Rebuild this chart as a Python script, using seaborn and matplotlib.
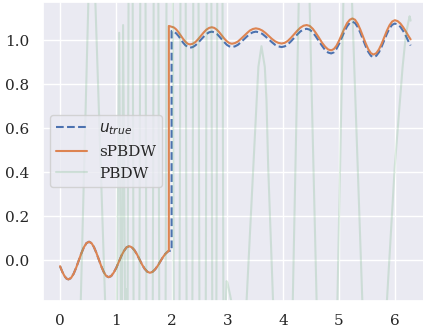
import numpy as np
import pandas as pd
import matplotlib
matplotlib.use("Agg")
import matplotlib.pyplot as plt
import seaborn as sns

# ---- data ----
# shared left part (x < 2) for u_true and sPBDW
x_left = [0.0, 0.04, 0.08, 0.115, 0.15, 0.196, 0.2425, 0.289, 0.335, 0.381, 0.4275, 0.474,
          0.52, 0.564, 0.6075, 0.651, 0.695, 0.739, 0.7825, 0.826, 0.87, 0.916, 0.9625,
          1.009, 1.055, 1.101, 1.1475, 1.194, 1.24, 1.286, 1.3325, 1.379, 1.425, 1.471,
          1.5175, 1.564, 1.61, 1.656, 1.7025, 1.749, 1.795, 1.841, 1.8875, 1.934, 1.95]
y_left = [-0.026, -0.051, -0.071, -0.082, -0.086, -0.080, -0.061, -0.033, -0.0005, 0.032,
          0.060, 0.079, 0.085, 0.079, 0.061, 0.035, 0.0045, -0.026, -0.052, -0.070, -0.076,
          -0.071, -0.055, -0.033, -0.0055, 0.022, 0.044, 0.060, 0.065, 0.060, 0.047, 0.028,
          0.0045, -0.019, -0.038, -0.051, -0.056, -0.052, -0.041, -0.025, -0.0055, 0.014,
          0.030, 0.041, 0.043]

# right part x positions (after the jump), shared by u_true and sPBDW
x_right = [2.0, 2.041, 2.0825, 2.124, 2.165, 2.206, 2.2475, 2.289,
           2.33, 2.379, 2.4275, 2.476, 2.525, 2.574, 2.6225, 2.671,
           2.72, 2.765, 2.81, 2.855, 2.90, 2.945, 2.99, 3.035,
           3.08, 3.134, 3.1875, 3.241, 3.295, 3.349, 3.4025, 3.456,
           3.51, 3.5675, 3.625, 3.6825, 3.74, 3.7975, 3.855, 3.9125,
           3.97, 4.026, 4.0825, 4.139, 4.195, 4.251, 4.3075, 4.364,
           4.42, 4.475, 4.53, 4.585, 4.64, 4.695, 4.75, 4.805,
           4.86, 4.9075, 4.955, 5.0025, 5.05, 5.0975, 5.145, 5.1925,
           5.24, 5.2875, 5.335, 5.3825, 5.43, 5.4775, 5.525, 5.5725,
           5.62, 5.6675, 5.715, 5.7625, 5.81, 5.8575, 5.905, 5.9525,
           6.0, 6.05, 6.1, 6.15, 6.2, 6.24, 6.283]

# u_true: end of left part at x = 2, then right part
u_jump_x = [2.0]
u_jump_y = [0.045]
u_y_right = [1.043, 1.040, 1.032, 1.020, 1.005, 0.990, 0.978, 0.970,
             0.967, 0.970, 0.978, 0.990, 1.0035, 1.017, 1.029, 1.037,
             1.040, 1.037, 1.030, 1.018, 1.005, 0.992, 0.980, 0.973,
             0.970, 0.973, 0.980, 0.992, 1.005, 1.018, 1.030, 1.037,
             1.040, 1.037, 1.030, 1.018, 1.005, 0.992, 0.980, 0.973,
             0.970, 0.973, 0.982, 0.996, 1.0115, 1.027, 1.041, 1.050,
             1.053, 1.049, 1.037, 1.018, 0.997, 0.976, 0.957, 0.945,
             0.941, 0.946, 0.962, 0.985, 1.013, 1.041, 1.064, 1.080,
             1.085, 1.079, 1.061, 1.035, 1.0045, 0.974, 0.948, 0.930,
             0.924, 0.930, 0.946, 0.971, 1.0005, 1.030, 1.055, 1.071,
             1.077, 1.073, 1.062, 1.043, 1.020, 0.998, 0.977]

# sPBDW: jumps slightly before x = 2
s_jump_x = [1.95]
s_jump_y = [1.066]
s_y_right = [1.062, 1.059, 1.050, 1.037, 1.022, 1.007, 0.994, 0.985,
             0.982, 0.985, 0.993, 1.006, 1.021, 1.036, 1.049, 1.057,
             1.060, 1.057, 1.049, 1.037, 1.0225, 1.008, 0.996, 0.988,
             0.985, 0.988, 0.995, 1.007, 1.020, 1.033, 1.045, 1.052,
             1.055, 1.052, 1.045, 1.034, 1.0205, 1.007, 0.996, 0.989,
             0.986, 0.989, 0.998, 1.012, 1.028, 1.044, 1.058, 1.067,
             1.070, 1.066, 1.053, 1.034, 1.0125, 0.990, 0.972, 0.959,
             0.955, 0.961, 0.976, 1.000, 1.0275, 1.055, 1.079, 1.094,
             1.100, 1.094, 1.076, 1.049, 1.018, 0.987, 0.960, 0.942,
             0.936, 0.942, 0.959, 0.984, 1.014, 1.044, 1.069, 1.086,
             1.092, 1.088, 1.077, 1.060, 1.040, 1.022, 1.005]

# PBDW (wildly oscillating, mostly outside the visible range)
pb_x = [0.00, 0.20, 0.37, 0.51, 0.57, 0.63, 0.81, 0.92, 1.02, 1.06, 1.09, 1.10, 1.11,
        1.13, 1.165, 1.175, 1.19, 1.20,
        1.212, 1.228, 1.265, 1.302, 1.318, 1.37, 1.422, 1.438, 1.485, 1.532, 1.548,
        1.605, 1.662, 1.678, 1.72, 1.762, 1.778, 1.835, 1.892, 1.908, 1.965, 2.022,
        2.038, 2.09, 2.142, 2.158, 2.205, 2.252, 2.268, 2.32, 2.372, 2.388, 2.435,
        2.482, 2.498, 2.555, 2.612, 2.628, 2.67, 2.712, 2.728, 2.765, 2.802, 2.818,
        2.865, 2.912, 2.928, 2.95, 2.985, 3.00, 3.05, 3.08, 3.20, 3.34, 3.465, 3.525,
        3.555, 3.61, 3.67, 3.70, 3.73, 3.82, 4.00, 4.17, 4.28, 4.375, 4.47, 4.60, 4.79,
        4.97, 5.08, 5.155, 5.23, 5.42, 5.64, 5.855, 6.00, 6.14, 6.20, 6.265, 6.283]
pb_y = [-2.5, -4.0, -0.2, 1.2, 2.5, 1.2, -0.2, -1.5, -0.2, 1.035, -0.2, -0.5, -0.2,
        1.07, -0.2, -0.35, -0.13, -0.35,
        -0.2, 1.2, 3.0, 1.2, -0.2, -2.5, -0.2, 1.2, 3.0, 1.2, -0.2,
        -2.5, -0.2, 1.2, 3.0, 1.2, -0.2, -2.5, -0.2, 1.2, 3.0, 1.2,
        -0.2, -2.5, -0.2, 1.2, 3.0, 1.2, -0.2, -2.5, -0.2, 1.2, 3.0,
        1.2, -0.2, -2.5, -0.2, 1.2, 3.0, 1.2, -0.2, -2.5, -0.2, 1.2,
        3.0, 1.2, -0.2, -0.35, -0.094, -0.10, -0.16, -0.2, -1.2, -0.2, 0.43, 0.73,
        0.88, 0.974, 0.88, 0.73, 0.43, -0.2, -1.5, -0.2, 1.2, 2.0, 1.2, -0.2, -1.5,
        -0.2, 1.2, 1.8, 1.2, -0.2, -1.5, -0.2, 0.43, 0.88, 1.03, 1.11, 1.09]

labels = [r"$u_{true}$", "sPBDW", "PBDW"]

# ---- build frames ----
df_u = pd.DataFrame({"x": x_left + u_jump_x + x_right,
                     "y": y_left + u_jump_y + u_y_right})
df_s = pd.DataFrame({"x": x_left + s_jump_x + x_right,
                     "y": y_left + s_jump_y + s_y_right})
df_p = pd.DataFrame({"x": pb_x, "y": pb_y})

sns.set_theme(style="darkgrid")
plt.rcParams["font.family"] = "serif"

fig = plt.figure(figsize=(4.23, 3.28), dpi=100)
ax = fig.add_axes([0.1005, 0.0838, 0.9116, 0.9116])

pal = sns.color_palette("deep")
sns.lineplot(data=df_u, x="x", y="y", ax=ax, sort=False, estimator=None,
             color=pal[0], linestyle="--", linewidth=1.5, label=labels[0])
sns.lineplot(data=df_s, x="x", y="y", ax=ax, sort=False, estimator=None,
             color=pal[1], linewidth=1.5, label=labels[1])
sns.lineplot(data=df_p, x="x", y="y", ax=ax, sort=False, estimator=None,
             color=pal[2], alpha=0.2, linewidth=1.5, label=labels[2])

ax.set_xlim(-0.314, 6.597)
ax.set_ylim(-0.182, 1.177)
ax.set_xlabel("")
ax.set_ylabel("")
ax.legend(loc="center left")

fig.savefig("out.png", dpi=100)
